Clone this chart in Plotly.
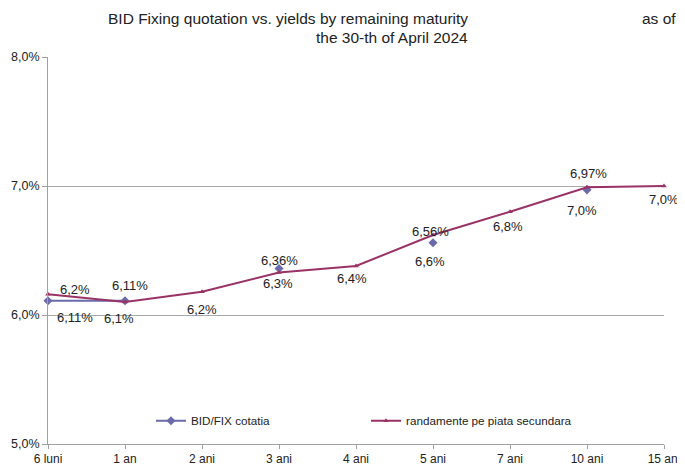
import plotly.graph_objects as go

maturities = ["6 luni", "1 an", "2 ani", "3 ani", "4 ani", "5 ani", "7 ani", "10 ani", "15 ani"]
bid_fix = [6.11, 6.11, None, 6.36, None, 6.56, None, 6.97, None]
secondary = [6.16, 6.10, 6.18, 6.33, 6.38, 6.62, 6.80, 6.99, 7.00]

# label offsets in pixels (dx, dy; dy positive = up), as placed in the original chart
bid_offsets = [(27, -17), (5, 15), None, (0, 8), None, (-3, 11), None, (1, 16), None]
sec_offsets = [(27, 5), (-6, -16), (0, -18), (-1, -11), (-4, -13), (-3, -26), (-2, -15), (-5, -23), (0, -13)]


def fmt(v, nd):
    return f"{v:.{nd}f}".replace(".", ",") + "%"


BLUE = "#6A6AAC"
PLUM = "#993366"
FONT = "Liberation Sans, Arial, sans-serif"

# the page body has an 8px margin, so the figure is 8px smaller than the window
fig = go.Figure()
fig.add_trace(go.Scatter(
    x=maturities, y=bid_fix, name="BID/FIX cotatia",
    mode="lines+markers",
    line=dict(color=BLUE, width=2),
    marker=dict(symbol="diamond", size=7, color=BLUE),
    cliponaxis=False, connectgaps=False,
))
fig.add_trace(go.Scatter(
    x=maturities, y=secondary, name="randamente pe piata secundara",
    mode="lines+markers",
    line=dict(color=PLUM, width=2),
    marker=dict(symbol="triangle-up", size=5, color=PLUM),
    cliponaxis=False,
))

annotations = []
for series, offsets, nd in [(bid_fix, bid_offsets, 2), (secondary, sec_offsets, 1)]:
    for cat, v, off in zip(maturities, series, offsets):
        if v is None:
            continue
        annotations.append(dict(
            x=cat, y=v, xref="x", yref="y", text=fmt(v, nd), showarrow=False,
            xanchor="center", yanchor="middle", xshift=off[0], yshift=off[1],
            font=dict(size=13, color="#222222"),
        ))

annotations += [
    dict(text="BID Fixing quotation vs. yields by remaining maturity", xref="paper", yref="paper",
         x=(470 - 48) / 616, y=1, yshift=39, xanchor="right", yanchor="middle",
         showarrow=False, font=dict(size=15.5)),
    dict(text="as of", xref="paper", yref="paper", x=(640 - 48) / 616, y=1, yshift=39,
         xanchor="left", yanchor="middle", showarrow=False, font=dict(size=15.5)),
    dict(text="the 30-th of April 2024", xref="paper", yref="paper",
         x=(470 - 48) / 616, y=1, yshift=20, xanchor="right", yanchor="middle",
         showarrow=False, font=dict(size=15.5)),
]

fig.update_layout(
    width=677, height=458,
    margin=dict(l=40, r=21, t=49, b=22),
    paper_bgcolor="white", plot_bgcolor="white",
    font=dict(family=FONT, size=12, color="#222222"),
    separators=",.",
    showlegend=True,
    legend=dict(orientation="h", x=(151 - 48) / 616, y=0.06, xanchor="left", yanchor="middle",
                bgcolor="rgba(0,0,0,0)", font=dict(size=11.7), itemwidth=30,
                entrywidth=170, tracegroupgap=0),
    annotations=annotations,
)
fig.update_xaxes(
    type="category", range=[0, 8], showgrid=False, automargin=False,
    showline=True, linecolor="#A0A0A0", linewidth=1,
    ticks="outside", tickcolor="#A0A0A0", ticklen=4,
    tickfont=dict(size=12), zeroline=False,
)
fig.update_yaxes(
    range=[5, 8], dtick=1, tickformat=".1f", ticksuffix="%", automargin=False,
    showgrid=True, gridcolor="#A8A8A8", gridwidth=1,
    showline=True, linecolor="#A0A0A0", linewidth=1,
    ticks="outside", tickcolor="#A0A0A0", ticklen=5,
    tickfont=dict(size=12.5), zeroline=False,
)

fig.write_html("out.html")
